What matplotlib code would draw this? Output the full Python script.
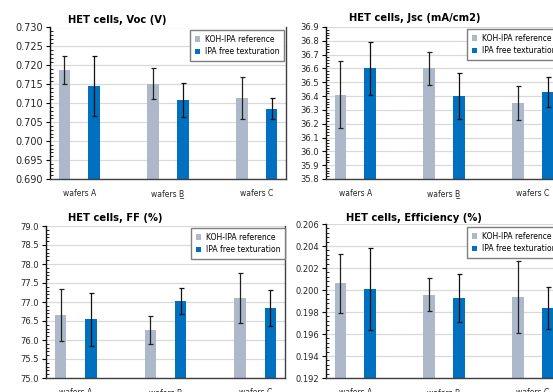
import numpy as np
import matplotlib
matplotlib.use("Agg")
import matplotlib.pyplot as plt
from matplotlib.ticker import MultipleLocator, FormatStrFormatter

plt.rcParams['font.family'] = ['DejaVu Sans']

# data
groups = ['wafers A', 'wafers B\u0332', 'wafers C']
series = ['KOH-IPA reference', 'IPA free texturation']

voc_ref = [0.7188, 0.7151, 0.7113]
voc_ref_err = [0.0036, 0.0041, 0.0055]
voc_ipa = [0.7146, 0.7109, 0.7086]
voc_ipa_err = [0.0079, 0.0044, 0.0028]

jsc_ref = [36.41, 36.60, 36.35]
jsc_ref_err = [0.243, 0.119, 0.122]
jsc_ipa = [36.60, 36.40, 36.43]
jsc_ipa_err = [0.19, 0.165, 0.11]

ff_ref = [76.66, 76.26, 77.11]
ff_ref_err = [0.68, 0.375, 0.65]
ff_ipa = [76.55, 77.03, 76.84]
ff_ipa_err = [0.70, 0.34, 0.47]

eff_ref = [0.2006, 0.19956, 0.19935]
eff_ref_err = [0.0027, 0.0015, 0.0033]
eff_ipa = [0.2001, 0.19929, 0.19838]
eff_ipa_err = [0.0037, 0.0022, 0.0019]

GRAY = '#adb9ca'
BLUE = '#0070c0'
W, H = 553, 392

fig = plt.figure(figsize=(W / 100, H / 100), dpi=100)


def add_ax(x, top, w, h):
    return fig.add_axes([x / W, 1 - (top + h) / H, w / W, h / H])


def panel(ax, ref, ref_err, ipa, ipa_err, ylim, step, fmt, tick_fs, right_border):
    x = np.arange(len(groups))
    bw = 0.13
    off = 0.168
    ax.bar(x - off, ref, bw, color=GRAY, label=series[0], zorder=2)
    ax.bar(x + off, ipa, bw, color=BLUE, label=series[1], zorder=2)
    ax.errorbar(x - off, ref, yerr=ref_err, fmt='none', ecolor='#222222',
                elinewidth=0.9, capsize=1.8, capthick=0.9, zorder=3)
    ax.errorbar(x + off, ipa, yerr=ipa_err, fmt='none', ecolor='#111111',
                elinewidth=0.9, capsize=1.8, capthick=0.9, zorder=3)
    ax.set_xlim(-0.33, 2.33)
    ax.set_ylim(*ylim)
    ax.yaxis.set_major_locator(MultipleLocator(step))
    ax.yaxis.set_minor_locator(MultipleLocator(step / 5))
    ax.yaxis.set_major_formatter(FormatStrFormatter(fmt))
    ax.yaxis.grid(True, color='#d9d9d9', linewidth=0.9, zorder=0)
    ax.set_axisbelow(True)
    ax.set_xticks(x)
    ax.set_xticklabels(groups, fontsize=5.5, color='#262626')
    ax.tick_params(axis='x', length=0, pad=7)
    ax.tick_params(axis='y', which='major', direction='out', length=3,
                   width=0.8, labelsize=tick_fs, labelcolor='#262626', pad=2)
    ax.tick_params(axis='y', which='minor', direction='in', length=2.5, width=0.6)
    ax.spines['top'].set_visible(False)
    ax.spines['right'].set_visible(right_border)
    ax.spines['right'].set_color('#404040')
    ax.spines['left'].set_color('#111111')
    ax.spines['bottom'].set_color('#404040')
    for s in ax.spines.values():
        s.set_linewidth(1.0)


def legend_at(ax, x, top):
    ax.legend(loc='upper left', bbox_to_anchor=(x / W, 1 - top / H),
              bbox_transform=fig.transFigure, fontsize=5.5, frameon=True,
              fancybox=False, edgecolor='#7f7f7f', framealpha=1,
              handlelength=0.7, handleheight=0.7, handletextpad=0.7,
              labelspacing=0.45, borderpad=0.6, borderaxespad=0)


ax1 = add_ax(50, 27.5, 236, 151.5)
panel(ax1, voc_ref, voc_ref_err, voc_ipa, voc_ipa_err, (0.690, 0.730), 0.005, '%.3f', 7, True)
legend_at(ax1, 190, 30)

ax2 = add_ax(326, 27, 236, 152)
panel(ax2, jsc_ref, jsc_ref_err, jsc_ipa, jsc_ipa_err, (35.8, 36.9), 0.1, '%.1f', 6, False)
legend_at(ax2, 467, 29)

ax3 = add_ax(46, 226, 239, 152)
panel(ax3, ff_ref, ff_ref_err, ff_ipa, ff_ipa_err, (75.0, 79.0), 0.5, '%.1f', 6, True)
legend_at(ax3, 191, 228)

ax4 = add_ax(326, 224, 236, 154)
panel(ax4, eff_ref, eff_ref_err, eff_ipa, eff_ipa_err, (0.192, 0.206), 0.002, '%.3f', 6, False)
legend_at(ax4, 467, 227)

titles = [('HET cells, Voc (V)', 117, 20), ('HET cells, Jsc (mA/cm2)', 415, 18),
          ('HET cells, FF (%)', 115.5, 218), ('HET cells, Efficiency (%)', 414, 218)]
for t, tx, ty in titles:
    fig.text(tx / W, 1 - ty / H, t, ha='center', va='center', fontsize=7.2,
             fontweight='bold', color='#000000')

fig.savefig('out.png', dpi=100)
